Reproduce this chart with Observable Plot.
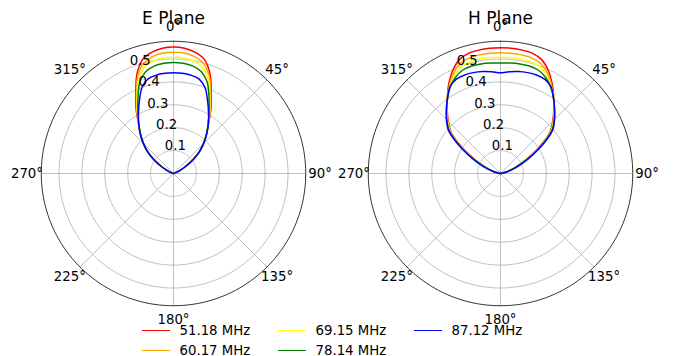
<!DOCTYPE html>
<html><head><meta charset="utf-8">
<script src="https://cdn.jsdelivr.net/npm/d3@7"></script>
<script src="https://cdn.jsdelivr.net/npm/@observablehq/plot@0.6"></script>
<style>
body{margin:0;background:#fff;font-family:"DejaVu Sans",sans-serif;}
#wrap{position:relative;width:673px;height:356px;overflow:hidden;background:#fff;}
#plots{display:flex;}
#legend{position:absolute;left:142px;top:321px;display:grid;grid-template-columns:136px 136px 136px;grid-template-rows:19.5px 19.5px;grid-auto-flow:column;font-size:13.3px;color:#000;}
.item{display:flex;align-items:center;white-space:nowrap;line-height:19.5px;}
.sw{display:inline-block;width:27.5px;height:0;border-top:1.5px solid;margin-right:10px;}
</style></head><body>
<div id="wrap"><div id="plots"></div><div id="legend"></div></div>
<script>
// ---- data ----
const planeTitles = ["E Plane", "H Plane"];
const freqLabels = ["51.18 MHz", "60.17 MHz", "69.15 MHz", "78.14 MHz", "87.12 MHz"];
const seriesColors = ["red", "orange", "yellow", "green", "blue"];
const thetaDeg = [-90,-80,-75,-70,-65,-60,-55,-50,-45,-40,-35,-30,-25,-20,-15,-10,-5,0,5,10,15,20,25,30,35,40,45,50,55,60,65,70,75,80,90];

const ePlane51 = [0,0,.002,.008,.028,.061,.104,.147,.186,.225,.267,.327,.390,.465,.517,.538,.549,.552,.549,.538,.517,.465,.390,.327,.267,.225,.186,.147,.104,.061,.028,.008,.002,0,0];
const ePlane60 = [0,0,.002,.008,.028,.061,.104,.147,.186,.225,.266,.321,.383,.455,.500,.519,.528,.530,.528,.519,.500,.455,.383,.321,.266,.225,.186,.147,.104,.061,.028,.008,.002,0,0];
const ePlane69 = [0,0,.002,.008,.028,.061,.104,.147,.186,.225,.265,.316,.376,.442,.483,.499,.506,.508,.506,.499,.483,.442,.376,.316,.265,.225,.186,.147,.104,.061,.028,.008,.002,0,0];
const ePlane78 = [0,0,.002,.008,.028,.061,.104,.147,.186,.225,.264,.311,.367,.428,.462,.477,.483,.485,.483,.477,.462,.428,.367,.311,.264,.225,.186,.147,.104,.061,.028,.008,.002,0,0];
const ePlane87 = [0,0,.002,.008,.028,.061,.104,.147,.186,.225,.265,.306,.352,.401,.428,.436,.439,.440,.439,.436,.428,.401,.352,.306,.265,.225,.186,.147,.104,.061,.028,.008,.002,0,0];

const hPlane51 = [0,.010,.025,.050,.090,.145,.215,.283,.323,.362,.405,.452,.495,.528,.543,.547,.549,.549,.549,.547,.543,.528,.495,.452,.405,.362,.323,.283,.215,.145,.090,.050,.025,.010,0];
const hPlane60 = [0,.011,.027,.053,.094,.150,.220,.287,.326,.363,.404,.446,.484,.512,.523,.526,.527,.527,.527,.526,.523,.512,.484,.446,.404,.363,.326,.287,.220,.150,.094,.053,.027,.011,0];
const hPlane69 = [0,.011,.028,.056,.098,.154,.224,.290,.328,.364,.404,.441,.474,.498,.506,.508,.508,.508,.508,.508,.506,.498,.474,.441,.404,.364,.328,.290,.224,.154,.098,.056,.028,.011,0];
const hPlane78 = [0,.012,.029,.059,.101,.158,.228,.294,.331,.366,.403,.437,.464,.481,.486,.486,.484,.483,.484,.486,.486,.481,.464,.437,.403,.366,.331,.294,.228,.158,.101,.059,.029,.012,0];
const hPlane87 = [0,.012,.030,.062,.105,.162,.232,.298,.334,.368,.403,.440,.455,.458,.456,.452,.446,.440,.446,.452,.456,.458,.455,.440,.403,.368,.334,.298,.232,.162,.105,.062,.030,.012,0];

const ringTicks = [0.1, 0.2, 0.3, 0.4, 0.5];
const angleTicks = [0, 45, 90, 135, 180, 225, 270, 315];
const rMax = 0.5775;

// ---- drawing ----
const rad = d => d * Math.PI / 180;
const px = (r, t) => r * Math.sin(rad(t));
const py = (r, t) => r * Math.cos(rad(t));

function polarPlot(title, seriesList, cx, w) {
  const k = 229, cy = 173, h = 322;
  const rows = [];
  seriesList.forEach((vals, i) => vals.forEach((r, j) => rows.push({series: freqLabels[i], theta: thetaDeg[j], r})));
  const full = d3.range(0, 361, 2);
  const ringRows = ringTicks.flatMap(r => full.map(t => ({ring: r, t})));
  const outerRows = full.map(t => ({t}));
  const labR = 0.64;
  return Plot.plot({
    width: w, height: h, margin: 0,
    x: {domain: [-cx / k, (w - cx) / k], axis: null},
    y: {domain: [-(h - cy) / k, cy / k], axis: null},
    color: {domain: freqLabels, range: seriesColors},
    style: {fontFamily: "DejaVu Sans", fontSize: "13.3px", background: "white", overflow: "visible"},
    marks: [
      Plot.line(ringRows, {x: d => px(d.ring, d.t), y: d => py(d.ring, d.t), z: "ring", stroke: "#b0b0b0", strokeWidth: 0.8}),
      Plot.link(angleTicks, {x1: 0, y1: 0, x2: a => px(rMax, a), y2: a => py(rMax, a), stroke: "#b0b0b0", strokeWidth: 0.8}),
      Plot.line(outerRows, {x: d => px(rMax, d.t), y: d => py(rMax, d.t), stroke: "#000", strokeWidth: 0.8}),
      Plot.line(rows, {x: d => px(d.r, d.theta), y: d => py(d.r, d.theta), z: "series", stroke: "series", strokeWidth: 1.5, curve: "catmull-rom"}),
      Plot.text(angleTicks, {x: a => px(labR, a), y: a => py(labR, a), text: a => a + "°", fontSize: 13.3, textAnchor: "middle", lineAnchor: "middle"}),
      Plot.text(ringTicks, {x: r => px(r, -22.5), y: r => py(r, -22.5), text: r => r.toFixed(1), fontSize: 13.3, textAnchor: "start", lineAnchor: "bottom", dy: -2.5}),
      Plot.text([title], {x: 0, frameAnchor: "top", dy: 18.5, text: d => d, fontSize: 17, lineAnchor: "middle"})
    ]
  });
}

const plots = document.getElementById("plots");
plots.appendChild(polarPlot(planeTitles[0], [ePlane51, ePlane60, ePlane69, ePlane78, ePlane87], 173, 336));
plots.appendChild(polarPlot(planeTitles[1], [hPlane51, hPlane60, hPlane69, hPlane78, hPlane87], 164, 337));

const legend = document.getElementById("legend");
freqLabels.forEach((lab, i) => {
  const it = document.createElement("div");
  it.className = "item";
  const sw = document.createElement("span");
  sw.className = "sw";
  sw.style.borderTopColor = seriesColors[i];
  it.appendChild(sw);
  it.appendChild(document.createTextNode(lab));
  legend.appendChild(it);
});
</script>
</body></html>
